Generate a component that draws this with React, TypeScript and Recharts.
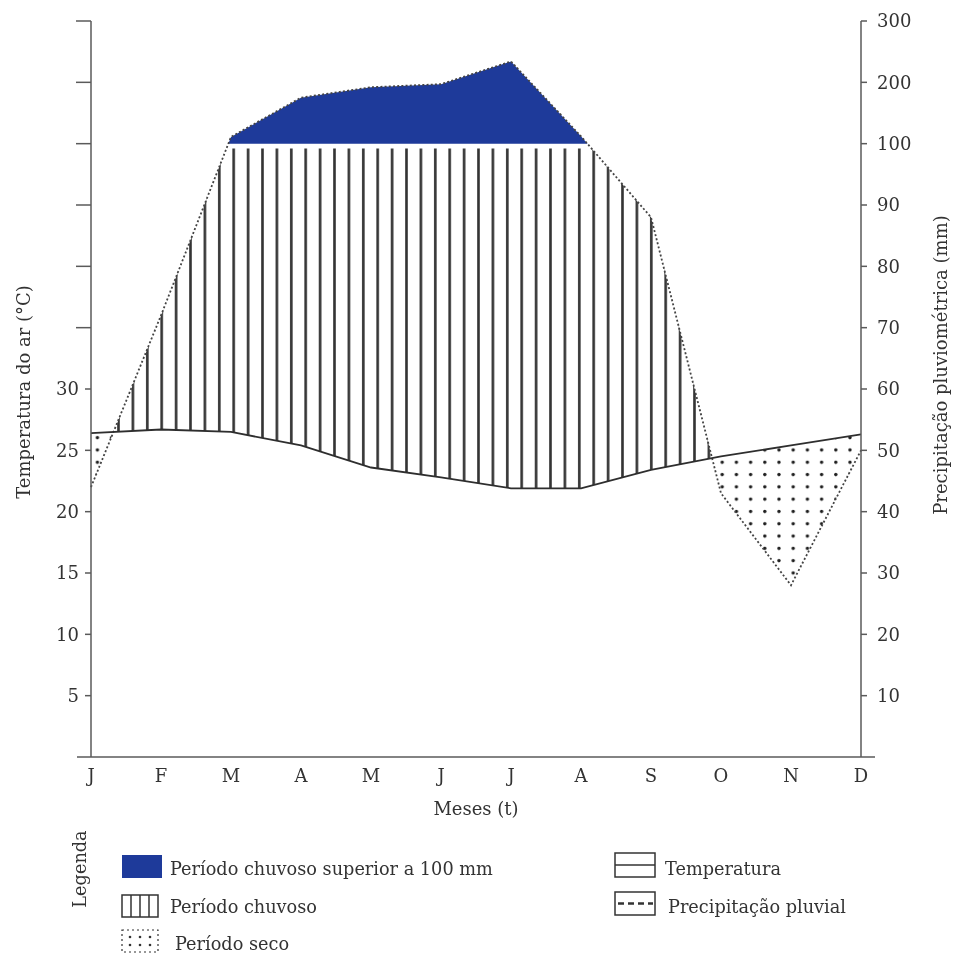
import React from 'react';
import { ComposedChart, Area, Line, XAxis, YAxis, ReferenceLine } from 'recharts';

// Monthly values
const months = ['J', 'F', 'M', 'A', 'M', 'J', 'J', 'A', 'S', 'O', 'N', 'D'];
const temperature = [26.4, 26.7, 26.5, 25.4, 23.6, 22.8, 21.9, 21.9, 23.4, 24.5, 25.4, 26.3]; // °C
const precipitation = [44, 72, 111, 175, 192, 197, 234, 112, 88, 43, 28, 50]; // mm

// plot units: 1 °C = 2 units, 1 mm = 1 unit up to 100 mm, 10 mm = 1 unit above
const plotTicks = [10, 20, 30, 40, 50, 60, 70, 80, 90, 100, 110, 120];
const monthTicks = [0, 1, 2, 3, 4, 5, 6, 7, 8, 9, 10, 11];

const toPlot = (mm: number) => (mm <= 100 ? mm : 100 + (mm - 100) / 10);
const rightLabel = (v: number) => String(v <= 100 ? v : 100 + (v - 100) * 10);

const data = months.map((m, i) => ({
  i,
  month: m,
  t: temperature[i] * 2,
  p: toPlot(precipitation[i]),
}));

const W = 954;
const H = 800;
const FONT = '"DejaVu Serif", "Liberation Serif", serif';
const FS = 18;
const LFS = 17.7;
const INK = '#333';
const AXIS = '#5a5a5a';
const BLUE = '#1e3a9a';

const hiddenMargin = { top: 21, right: 93, bottom: 43, left: 91 };

function FillLayer({ children }: { children: React.ReactNode }) {
  return (
    <div style={{ position: 'absolute', left: 0, top: 0, mixBlendMode: 'multiply' }}>
      <ComposedChart width={W} height={H} data={data} margin={hiddenMargin}>
        <XAxis dataKey="i" type="number" domain={[0, 11]} hide />
        <YAxis domain={[0, 120]} hide allowDataOverflow />
        {children}
      </ComposedChart>
    </div>
  );
}

const LeftTick = (props: any) => {
  const { x, y, payload } = props;
  const ax = x + 10; // tickSize + tickMargin
  const v = payload.value;
  const labelled = v <= 60;
  return (
    <g>
      <line x1={ax - (labelled ? 6 : 15)} x2={ax} y1={y} y2={y} stroke={AXIS} strokeWidth={1.5} />
      {labelled && (
        <text x={ax - 12} y={y} dy="0.35em" textAnchor="end" fontSize={FS} fontFamily={FONT} fill={INK}>
          {v / 2}
        </text>
      )}
    </g>
  );
};

const RightTick = (props: any) => {
  const { x, y, payload } = props;
  const ax = x - 10; // tickSize + tickMargin
  return (
    <g>
      <line x1={ax} x2={ax + 6} y1={y} y2={y} stroke={AXIS} strokeWidth={1.5} />
      <text x={ax + 16} y={y} dy="0.35em" textAnchor="start" fontSize={FS} fontFamily={FONT} fill={INK}>
        {rightLabel(payload.value)}
      </text>
    </g>
  );
};

export default function App() {
  return (
    <div style={{ position: 'absolute', left: 0, top: 0, width: W, height: 954, background: '#fff', isolation: 'isolate', overflow: 'hidden' }}>
      {/* rainy period (vertical hatching) */}
      <FillLayer>
        <defs>
          <pattern id="vlines" patternUnits="userSpaceOnUse" x={0} y={0} width={14.4} height={10}>
            <rect x={2} y={0} width={2.6} height={10} fill="#333" />
          </pattern>
        </defs>
        <Area dataKey="p" type="linear" stroke="none" fill="url(#vlines)" fillOpacity={1} isAnimationActive={false} />
        <Area dataKey="t" type="linear" stroke="none" fill="#fff" fillOpacity={1} isAnimationActive={false} />
        <Area dataKey={() => 120} baseValue={99.2} type="linear" stroke="none" fill="#fff" fillOpacity={1} isAnimationActive={false} />
      </FillLayer>

      {/* dry period (dots) */}
      <FillLayer>
        <defs>
          <pattern id="dots" patternUnits="userSpaceOnUse" x={0} y={0} width={14.2} height={12.3}>
            <circle cx={12.2} cy={7.2} r={1.7} fill="#1e1e1e" />
          </pattern>
        </defs>
        <Area dataKey="t" type="linear" stroke="none" fill="url(#dots)" fillOpacity={1} isAnimationActive={false} />
        <Area dataKey="p" type="linear" stroke="none" fill="#fff" fillOpacity={1} isAnimationActive={false} />
      </FillLayer>

      {/* rainfall above 100 mm */}
      <FillLayer>
        <Area dataKey="p" type="linear" stroke="none" fill={BLUE} fillOpacity={1} isAnimationActive={false} />
        <Area dataKey={() => 100} type="linear" stroke="none" fill="#fff" fillOpacity={1} isAnimationActive={false} />
      </FillLayer>

      {/* axes and lines */}
      <div style={{ position: 'absolute', left: 0, top: 0 }}>
        <ComposedChart width={W} height={H} data={data} margin={{ top: 21, right: 33, bottom: 13, left: 31 }}>
          <XAxis
            dataKey="i"
            type="number"
            domain={[0, 11]}
            ticks={monthTicks}
            tickFormatter={(i: number) => months[i]}
            axisLine={false}
            tickLine={false}
            tickSize={6}
            tickMargin={6}
            height={30}
            interval={0}
            tick={{ fontSize: FS, fill: INK, fontFamily: FONT }}
          />
          <YAxis
            yAxisId="l"
            orientation="left"
            width={60}
            domain={[0, 120]}
            ticks={plotTicks}
            interval={0}
            axisLine={{ stroke: AXIS, strokeWidth: 1.5 }}
            tickLine={false}
            tickSize={6}
            tickMargin={4}
            tick={<LeftTick />}
          />
          <YAxis
            yAxisId="r"
            orientation="right"
            width={60}
            domain={[0, 120]}
            ticks={plotTicks}
            interval={0}
            axisLine={{ stroke: AXIS, strokeWidth: 1.5 }}
            tickLine={false}
            tickSize={6}
            tickMargin={4}
            tick={<RightTick />}
          />
          <ReferenceLine
            yAxisId="l"
            segment={[{ x: -0.2, y: 0 }, { x: 11.2, y: 0 }]}
            ifOverflow="visible"
            stroke={AXIS}
            strokeWidth={1.5}
          />
          <Line yAxisId="r" dataKey="p" type="linear" stroke="#444" strokeWidth={1.8} strokeDasharray="2 2.2" dot={false} isAnimationActive={false} />
          <Line yAxisId="l" dataKey="t" type="linear" stroke="#2e2e2e" strokeWidth={1.8} dot={false} isAnimationActive={false} />
        </ComposedChart>
      </div>

      {/* titles and legend */}
      <svg width={W} height={954} style={{ position: 'absolute', left: 0, top: 0 }} fontFamily={FONT} fill={INK}>
        <text transform="translate(23,392) rotate(-90)" textAnchor="middle" dominantBaseline="central" fontSize={FS}>
          Temperatura do ar (°C)
        </text>
        <text transform="translate(940,365) rotate(-90)" textAnchor="middle" dominantBaseline="central" fontSize={FS}>
          Precipitação pluviométrica (mm)
        </text>
        <text x={476} y={815} textAnchor="middle" fontSize={FS}>
          Meses (t)
        </text>

        <text transform="translate(80,869) rotate(-90)" textAnchor="middle" dominantBaseline="central" fontSize={LFS}>
          Legenda
        </text>
        <rect x={122} y={855} width={40} height={23} fill={BLUE} />
        <text x={170} y={875} fontSize={LFS}>Período chuvoso superior a 100 mm</text>

        <rect x={122} y={895} width={36} height={22} fill="none" stroke={INK} strokeWidth={1.5} />
        {[131, 140, 149].map((x) => (
          <line key={x} x1={x} x2={x} y1={895} y2={917} stroke={INK} strokeWidth={1.5} />
        ))}
        <text x={170} y={913} fontSize={LFS}>Período chuvoso</text>

        <rect x={122} y={930} width={36} height={22} fill="none" stroke={INK} strokeWidth={1.2} strokeDasharray="2 3" />
        {[130, 140, 150].map((x) =>
          [937, 945].map((y) => <circle key={`${x}-${y}`} cx={x} cy={y} r={1.3} fill={INK} />),
        )}
        <text x={175} y={950} fontSize={LFS}>Período seco</text>

        <rect x={615} y={853} width={40} height={24} fill="none" stroke={INK} strokeWidth={1.5} />
        <line x1={615} x2={655} y1={865} y2={865} stroke={INK} strokeWidth={1.5} />
        <text x={665} y={875} fontSize={LFS}>Temperatura</text>

        <rect x={615} y={892} width={40} height={23} fill="none" stroke={INK} strokeWidth={1.5} />
        <line x1={618} x2={653} y1={903.5} y2={903.5} stroke={INK} strokeWidth={2.5} strokeDasharray="6 4" />
        <text x={668} y={913} fontSize={LFS}>Precipitação pluvial</text>
      </svg>
    </div>
  );
}
